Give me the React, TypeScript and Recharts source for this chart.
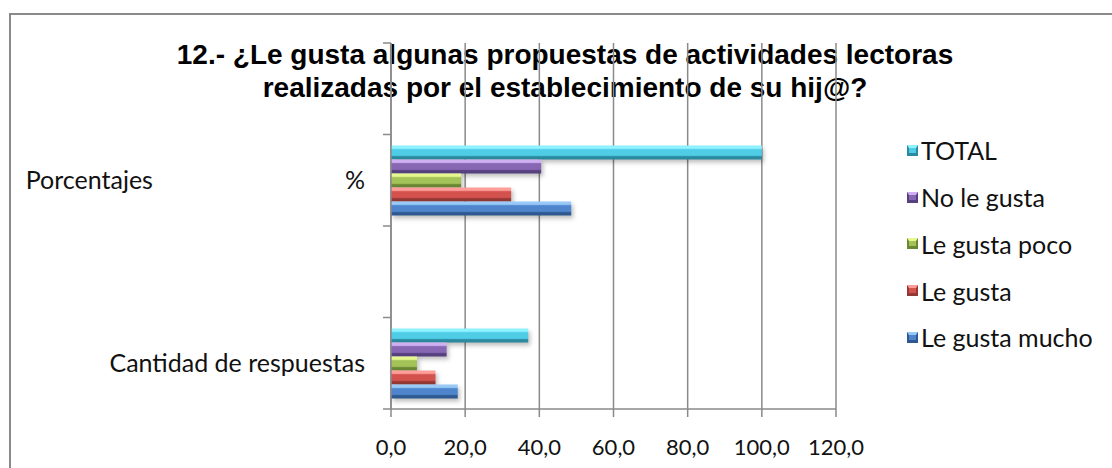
import { Bar, BarChart, CartesianGrid, XAxis, YAxis } from 'recharts';

const categories = [
  ' ',
  'Porcentajes                              %',
  '  ',
  'Cantidad de respuestas',
];
const seriesNames = ['TOTAL', 'No le gusta', 'Le gusta poco', 'Le gusta', 'Le gusta mucho'];
const porcentajes = [100, 40.5, 18.9, 32.4, 48.6];
const cantidades = [37, 15, 7, 12, 18];
const xTicks = [0, 20, 40, 60, 80, 100, 120];

// light / base / dark per series, gives the bevelled look
const palette = [
  ['#8ef2ff', '#4fcde6', '#2b8a9f'],
  ['#cfb0f2', '#8766b3', '#56407e'],
  ['#e6f78f', '#a3c258', '#6a8733'],
  ['#ff9d99', '#d4524e', '#933834'],
  ['#98c9f7', '#4e85cd', '#2e5990'],
];

const valuesByCategory: (number[] | null)[] = [null, porcentajes, null, cantidades];

const data = categories.map((name, i) => {
  const row: Record<string, string | number | null> = { name };
  seriesNames.forEach((s, j) => {
    const vals = valuesByCategory[i];
    row[s] = vals ? vals[j] : null;
  });
  return row;
});

const FONT = 'Lato, "Open Sans", sans-serif';
const GRID = '#8a8a8a';
const TICK_SIZE = 8;
const TICK_MARGIN = 18;

function CategoryTick(props: any) {
  const { x, y, payload, index, visibleTicksCount } = props;
  const half = payload?.offset ?? 0;
  const axisX = x + TICK_MARGIN + TICK_SIZE;
  const last = index === visibleTicksCount - 1;
  return (
    <g>
      <line x1={axisX - TICK_SIZE} x2={axisX} y1={y - half} y2={y - half} stroke={GRID} strokeWidth={1.5} />
      {last && (
        <line x1={axisX - TICK_SIZE} x2={axisX} y1={y + half} y2={y + half} stroke={GRID} strokeWidth={1.5} />
      )}
      <text
        x={x}
        y={y}
        dy="0.35em"
        textAnchor="end"
        fontSize={25}
        fontFamily={FONT}
        fill="#111"
        style={{ whiteSpace: 'pre' }}
      >
        {payload.value}
      </text>
    </g>
  );
}

export default function App() {
  return (
    <div
      style={{
        position: 'absolute',
        left: 0,
        top: 0,
        width: 1112,
        height: 468,
        overflow: 'hidden',
        background: '#fff',
      }}
    >
      <div
        style={{
          position: 'absolute',
          left: 9,
          top: 13,
          width: 1200,
          height: 600,
          border: '2px solid #8a8a8a',
        }}
      />
      <div
        style={{
          position: 'absolute',
          left: 0,
          top: 38,
          width: 1130,
          textAlign: 'center',
          fontFamily: '"Liberation Sans", Arial, sans-serif',
          fontWeight: 'bold',
          fontSize: 28,
          lineHeight: '33px',
          color: '#000',
        }}
      >
        12.- ¿Le gusta algunas propuestas de actividades lectoras
        <br />
        realizadas por el establecimiento de su hij@?
      </div>
      <div style={{ position: 'absolute', left: 0, top: 0 }}>
        <svg width={0} height={0} style={{ position: 'absolute' }}>
          <defs>
            {palette.map(([light, base, dark], i) => (
              <linearGradient key={i} id={`bevel${i}`} x1="0" y1="0" x2="0" y2="1">
                <stop offset="0" stopColor={light} />
                <stop offset="0.2" stopColor={light} />
                <stop offset="0.3" stopColor={base} />
                <stop offset="0.7" stopColor={base} />
                <stop offset="0.8" stopColor={dark} />
                <stop offset="1" stopColor={dark} />
              </linearGradient>
            ))}
          </defs>
        </svg>
        <BarChart
          width={1112}
          height={468}
          data={data}
          layout="vertical"
          margin={{ top: 43, right: 276, left: 0, bottom: 19 }}
          barCategoryGap={11}
          barGap={0}
        >
          <CartesianGrid horizontal={false} stroke={GRID} strokeWidth={1.5} />
          <XAxis
            type="number"
            domain={[0, 120]}
            ticks={xTicks}
            interval={0}
            height={40}
            tickSize={TICK_SIZE}
            tickMargin={22}
            tickFormatter={(v: number) => v.toFixed(1).replace('.', ',')}
            tick={{ fontSize: 22, fontFamily: FONT, fill: '#111' }}
            stroke={GRID}
            strokeWidth={1.5}
          />
          <YAxis
            type="category"
            dataKey="name"
            width={391}
            tickSize={TICK_SIZE}
            tickMargin={TICK_MARGIN}
            tickLine={false}
            tick={<CategoryTick />}
            interval={0}
            stroke={GRID}
            strokeWidth={1.5}
          />
          {seriesNames.map((s, i) => (
            <Bar
              key={s}
              dataKey={s}
              fill={`url(#bevel${i})`}
              isAnimationActive={false}
              style={{ filter: 'drop-shadow(2px 3px 2px rgba(0,0,0,0.25))' }}
            />
          ))}
        </BarChart>
      </div>
      <div
        style={{
          position: 'absolute',
          left: 907,
          top: 127,
          fontFamily: FONT,
          fontSize: 25,
          color: '#111',
        }}
      >
        {seriesNames.map((s, i) => (
          <div key={s} style={{ display: 'flex', alignItems: 'center', height: 46.75 }}>
            <span
              style={{
                display: 'block',
                flexShrink: 0,
                boxSizing: 'border-box',
                width: 11,
                height: 11,
                marginRight: 3,
                background: palette[i][1],
                borderTop: `3px solid ${palette[i][0]}`,
                borderBottom: `3px solid ${palette[i][2]}`,
                borderLeft: `2px solid ${palette[i][2]}`,
                borderRight: `2px solid ${palette[i][2]}`,
              }}
            />
            {s}
          </div>
        ))}
      </div>
    </div>
  );
}
